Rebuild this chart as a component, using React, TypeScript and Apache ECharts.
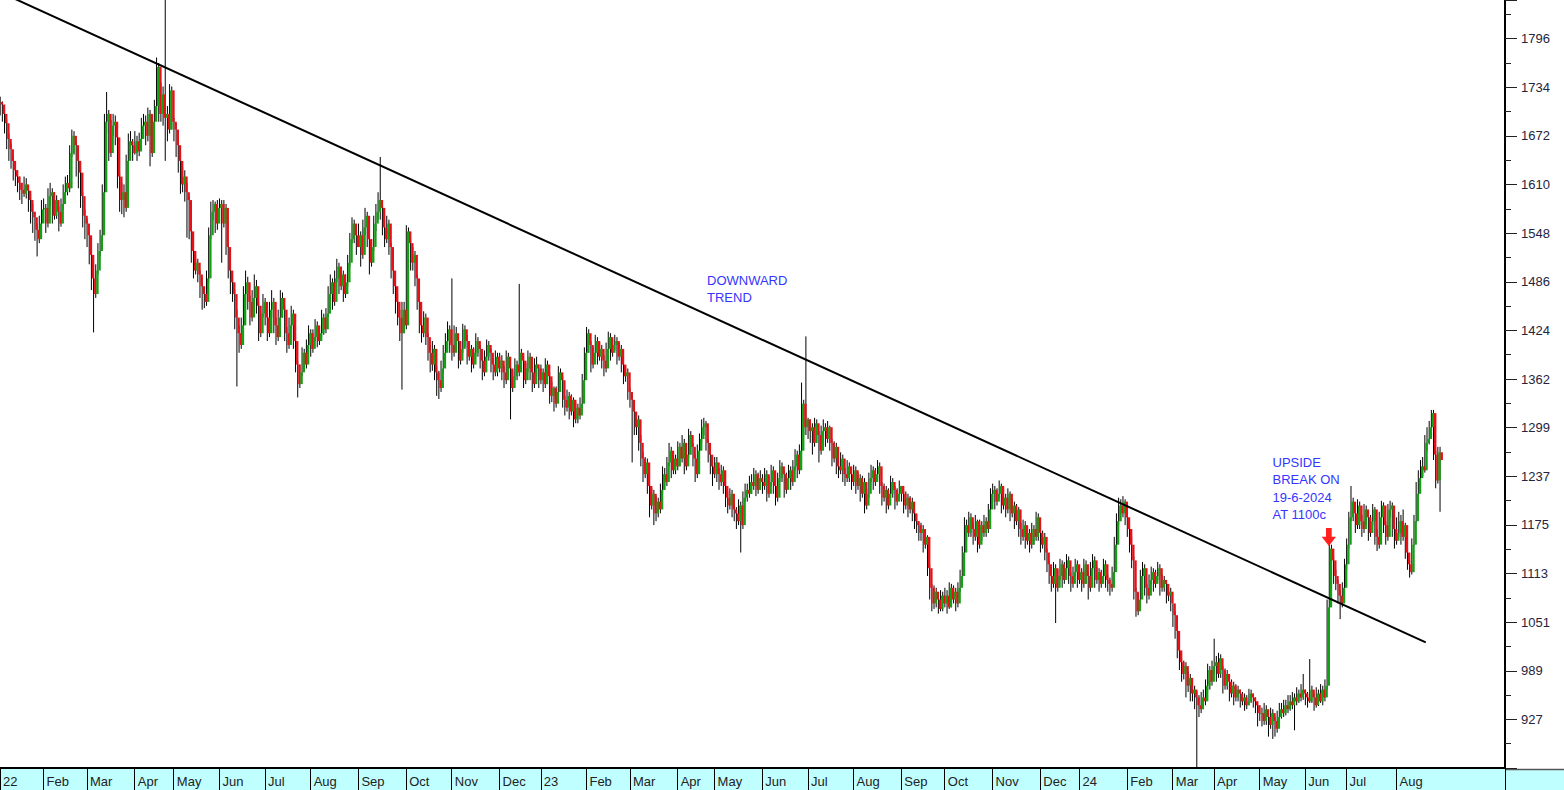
import React, { useEffect, useRef } from "react";
import * as echarts from "echarts";

// ---------- tick / axis labels ----------
const monthLabels = [
  "22", "Feb", "Mar", "Apr", "May", "Jun", "Jul", "Aug", "Sep", "Oct", "Nov", "Dec",
  "23", "Feb", "Mar", "Apr", "May", "Jun", "Jul", "Aug", "Sep", "Oct", "Nov", "Dec",
  "24", "Feb", "Mar", "Apr", "May", "Jun", "Jul", "Aug",
];
const yMin = 864.925;
const yMax = 1845.4;
const yStep = 62.075;

// ---------- daily candles: [close, low, high]; open = previous close ----------
const firstOpen = 1715;
const jan22 = [[1712,1698,1722],[1700,1690,1716],[1688,1675,1705],[1668,1655,1692],[1655,1640,1675],[1640,1630,1662],[1628,1615,1645],[1620,1608,1634],[1612,1600,1628],[1603,1590,1620],[1598,1585,1612],[1610,1594,1620],[1602,1592,1618],[1590,1575,1608],[1575,1560,1598],[1568,1548,1585],[1552,1538,1575],[1540,1518,1560],[1560,1535,1570],[1578,1550,1590]];
const feb22 = [[1580,1562,1592],[1560,1548,1585],[1595,1555,1605],[1600,1582,1612],[1570,1560,1605],[1590,1565,1600],[1575,1566,1596],[1560,1550,1582],[1585,1556,1592],[1600,1578,1610],[1612,1594,1620],[1605,1596,1622],[1650,1600,1660],[1672,1645,1680],[1660,1648,1678],[1640,1620,1665],[1625,1605,1648],[1595,1580,1630],[1570,1555,1600],[1560,1540,1578]];
const mar22 = [[1545,1530,1566],[1520,1508,1550],[1490,1475,1525],[1470,1421,1495],[1500,1465,1508],[1525,1495,1535],[1545,1518,1552],[1600,1540,1610],[1690,1595,1700],[1700,1675,1728],[1650,1640,1705],[1685,1645,1692],[1690,1672,1700],[1670,1660,1698],[1620,1605,1675],[1590,1575,1625],[1600,1572,1612],[1580,1568,1610],[1640,1575,1648],[1665,1632,1675],[1660,1648,1678],[1650,1640,1668]];
const apr22 = [[1665,1648,1678],[1652,1640,1672],[1668,1646,1676],[1685,1660,1695],[1690,1670,1700],[1672,1660,1698],[1700,1665,1708],[1650,1633,1705],[1690,1645,1698],[1710,1680,1718],[1760,1700,1772],[1700,1690,1765],[1725,1690,1740],[1695,1685,1735],[1700,1640,1870],[1680,1665,1710],[1730,1675,1738],[1690,1680,1735]];
const may22 = [[1680,1665,1695],[1660,1645,1688],[1640,1625,1665],[1610,1598,1645],[1620,1600,1632],[1600,1588,1628],[1590,1542,1612],[1550,1540,1595],[1525,1510,1558],[1500,1490,1530],[1510,1495,1518],[1495,1485,1515],[1480,1465,1500],[1470,1450,1490],[1460,1452,1478],[1490,1455,1500],[1545,1485,1555],[1575,1540,1588],[1585,1565,1590],[1560,1548,1588],[1580,1552,1590]];
const jun22 = [[1585,1570,1592],[1560,1510,1590],[1580,1555,1590],[1530,1520,1585],[1500,1490,1535],[1485,1470,1505],[1470,1460,1495],[1440,1425,1476],[1420,1352,1450],[1405,1395,1430],[1430,1400,1440],[1470,1425,1480],[1485,1460,1500],[1460,1450,1492],[1440,1430,1468],[1465,1435,1475],[1480,1458,1495],[1455,1445,1488],[1420,1410,1460],[1445,1415,1455],[1460,1440,1470]];
const jul22 = [[1440,1430,1465],[1420,1410,1448],[1450,1415,1460],[1460,1440,1475],[1430,1420,1465],[1415,1405,1440],[1440,1410,1450],[1465,1435,1475],[1450,1440,1472],[1420,1410,1455],[1405,1395,1428],[1430,1400,1440],[1445,1425,1455],[1410,1400,1450],[1380,1370,1415],[1355,1338,1385],[1370,1350,1380],[1395,1365,1402],[1380,1372,1400],[1405,1375,1412],[1420,1400,1430]];
const aug22 = [[1400,1390,1425],[1415,1395,1425],[1430,1410,1438],[1410,1402,1435],[1420,1405,1428],[1440,1415,1450],[1425,1418,1445],[1445,1420,1452],[1470,1440,1480],[1485,1465,1495],[1460,1450,1490],[1490,1455,1500],[1505,1485,1515],[1480,1470,1510],[1495,1475,1505],[1470,1460,1500],[1485,1465,1495],[1510,1480,1520],[1540,1505,1548],[1560,1535,1568],[1545,1535,1565],[1530,1520,1552]];
const sep22 = [[1545,1530,1560],[1520,1505,1550],[1555,1515,1565],[1570,1545,1580],[1540,1530,1575],[1510,1495,1545],[1530,1505,1540],[1560,1525,1570],[1575,1550,1585],[1590,1565,1600],[1580,1565,1645],[1555,1545,1590],[1540,1530,1565],[1560,1535,1570],[1530,1520,1565],[1500,1490,1535],[1480,1470,1510],[1460,1445,1490],[1440,1430,1470],[1420,1410,1450],[1450,1348,1460],[1430,1420,1460]];
const oct22 = [[1550,1425,1558],[1535,1520,1555],[1510,1500,1540],[1520,1500,1530],[1490,1480,1525],[1460,1450,1495],[1430,1420,1465],[1420,1408,1440],[1440,1415,1448],[1415,1405,1445],[1395,1385,1420],[1380,1370,1405],[1400,1372,1410],[1370,1360,1405],[1360,1340,1378],[1350,1336,1372],[1375,1345,1385],[1395,1370,1405],[1410,1390,1420],[1425,1400,1435],[1405,1395,1430]];
const nov22 = [[1395,1385,1490],[1420,1390,1430],[1410,1400,1428],[1385,1375,1415],[1400,1380,1410],[1425,1395,1432],[1410,1402,1430],[1390,1380,1418],[1400,1385,1410],[1380,1370,1405],[1395,1375,1402],[1410,1390,1420],[1400,1390,1415],[1385,1375,1405],[1370,1360,1392],[1390,1365,1398],[1405,1385,1412],[1395,1385,1410],[1380,1370,1400],[1370,1360,1388],[1390,1365,1398],[1375,1365,1395]];
const dec22 = [[1385,1370,1395],[1370,1360,1392],[1360,1350,1378],[1390,1355,1398],[1375,1365,1395],[1350,1310,1380],[1365,1345,1372],[1380,1360,1388],[1370,1360,1385],[1395,1365,1483],[1385,1375,1400],[1360,1350,1390],[1375,1355,1382],[1390,1370,1398],[1370,1360,1395],[1355,1345,1375],[1380,1350,1388],[1375,1365,1390],[1360,1350,1380]];
const jan23 = [[1370,1355,1380],[1355,1345,1375],[1380,1350,1388],[1365,1355,1385],[1340,1330,1370],[1350,1332,1358],[1330,1320,1352],[1345,1325,1352],[1370,1340,1378],[1360,1350,1375],[1335,1325,1365],[1325,1315,1340],[1340,1320,1348],[1320,1310,1345],[1335,1315,1342],[1310,1300,1338],[1325,1305,1332],[1315,1305,1330],[1330,1310,1338],[1360,1325,1368],[1395,1355,1402]];
const feb23 = [[1420,1395,1428],[1405,1395,1425],[1380,1370,1410],[1395,1375,1402],[1410,1390,1418],[1390,1380,1415],[1400,1385,1408],[1385,1375,1405],[1375,1365,1392],[1400,1370,1408],[1415,1395,1422],[1395,1385,1420],[1405,1390,1412],[1410,1398,1418],[1390,1380,1415],[1400,1385,1408],[1380,1370,1405],[1365,1355,1385],[1370,1358,1378],[1345,1335,1375]];
const mar23 = [[1335,1325,1350],[1320,1255,1345],[1300,1290,1330],[1310,1290,1318],[1280,1270,1315],[1260,1250,1290],[1240,1230,1268],[1255,1235,1262],[1225,1215,1260],[1200,1185,1235],[1215,1195,1222],[1190,1175,1220],[1205,1180,1212],[1195,1185,1210],[1220,1190,1228],[1240,1215,1250],[1230,1220,1248],[1255,1225,1262],[1270,1250,1280],[1245,1235,1275],[1260,1240,1268],[1250,1240,1265]];
const apr23 = [[1275,1245,1282],[1260,1250,1280],[1280,1255,1290],[1250,1240,1285],[1265,1245,1272],[1290,1260,1298],[1275,1265,1295],[1260,1250,1280],[1240,1230,1265],[1270,1235,1278],[1285,1265,1292],[1300,1280,1310],[1305,1290,1312],[1280,1270,1308],[1265,1255,1285],[1250,1240,1270],[1240,1225,1255]];
const may23 = [[1255,1235,1262],[1240,1230,1262],[1230,1220,1248],[1245,1225,1252],[1225,1215,1250],[1210,1198,1232],[1200,1190,1218],[1215,1195,1222],[1195,1185,1220],[1190,1180,1205],[1180,1170,1198],[1200,1175,1208],[1175,1140,1205],[1210,1170,1218],[1220,1205,1228],[1215,1205,1228],[1230,1210,1238],[1225,1215,1240],[1240,1220,1248],[1220,1212,1245],[1235,1215,1242],[1230,1220,1245]];
const jun23 = [[1225,1215,1240],[1240,1220,1248],[1215,1205,1245],[1230,1210,1238],[1245,1225,1252],[1225,1215,1250],[1210,1200,1230],[1235,1205,1242],[1250,1230,1258],[1240,1230,1255],[1220,1210,1245],[1235,1215,1242],[1245,1230,1252],[1230,1220,1250],[1250,1225,1258],[1265,1245,1272],[1245,1235,1270],[1270,1240,1278],[1330,1265,1357],[1300,1290,1335],[1310,1290,1416]];
const jul23 = [[1295,1285,1312],[1300,1280,1310],[1280,1265,1305],[1305,1275,1312],[1290,1280,1310],[1270,1255,1295],[1295,1265,1302],[1300,1285,1310],[1285,1275,1305],[1300,1280,1308],[1280,1270,1302],[1260,1250,1285],[1275,1255,1282],[1250,1240,1280],[1245,1235,1258],[1260,1240,1268],[1240,1230,1265],[1235,1225,1248],[1250,1230,1258],[1240,1230,1255],[1230,1220,1245]];
const aug23 = [[1245,1225,1252],[1225,1215,1250],[1235,1220,1242],[1215,1205,1240],[1230,1210,1238],[1200,1190,1235],[1215,1195,1222],[1235,1210,1242],[1245,1230,1252],[1230,1220,1250],[1240,1225,1248],[1250,1235,1258],[1225,1215,1255],[1210,1200,1230],[1220,1205,1228],[1200,1190,1225],[1215,1195,1222],[1230,1210,1238],[1220,1210,1235],[1205,1195,1225],[1215,1200,1222],[1225,1210,1232]];
const sep23 = [[1215,1205,1225],[1200,1190,1220],[1210,1195,1218],[1195,1185,1215],[1205,1190,1212],[1190,1180,1210],[1180,1170,1195],[1175,1165,1188],[1165,1155,1180],[1170,1155,1178],[1150,1140,1175],[1160,1145,1168],[1120,1110,1162],[1095,1080,1125],[1075,1065,1100],[1090,1068,1098],[1080,1070,1095],[1068,1062,1088],[1085,1065,1092],[1075,1065,1090]];
const oct23 = [[1085,1070,1095],[1070,1062,1092],[1095,1068,1102],[1080,1070,1100],[1090,1075,1098],[1075,1065,1095],[1095,1070,1102],[1110,1090,1118],[1140,1105,1148],[1175,1135,1185],[1165,1155,1182],[1185,1160,1192],[1170,1160,1190],[1160,1150,1178],[1180,1155,1188],[1150,1140,1182],[1175,1145,1182],[1165,1155,1180],[1180,1160,1188],[1170,1160,1185],[1195,1165,1202],[1215,1190,1222]];
const nov23 = [[1220,1205,1228],[1205,1195,1225],[1215,1200,1222],[1225,1210,1232],[1200,1190,1228],[1210,1195,1218],[1195,1185,1215],[1215,1190,1222],[1190,1180,1218],[1200,1185,1208],[1180,1170,1205],[1195,1175,1202],[1170,1160,1198],[1160,1150,1178],[1175,1155,1182],[1155,1145,1180],[1165,1150,1172],[1150,1140,1170],[1170,1145,1178],[1160,1150,1175],[1185,1155,1192],[1165,1155,1190]];
const dec23 = [[1150,1140,1170],[1160,1145,1168],[1140,1130,1165],[1125,1115,1145],[1110,1100,1130],[1100,1090,1115],[1120,1095,1128],[1095,1050,1125],[1110,1090,1118],[1125,1105,1132],[1105,1095,1130],[1120,1100,1128],[1130,1115,1138],[1110,1100,1135],[1100,1090,1115],[1115,1095,1122],[1125,1110,1132],[1105,1095,1130]];
const jan24 = [[1115,1100,1122],[1100,1090,1120],[1125,1095,1132],[1110,1100,1130],[1095,1080,1115],[1120,1090,1128],[1130,1115,1138],[1105,1095,1135],[1115,1100,1122],[1100,1090,1120],[1110,1095,1118],[1125,1105,1132],[1105,1095,1130],[1100,1090,1112],[1095,1085,1108],[1115,1090,1122],[1150,1110,1160],[1180,1145,1190],[1200,1175,1210],[1190,1180,1208],[1205,1185,1212],[1185,1175,1208]];
const feb24 = [[1170,1160,1190],[1150,1140,1175],[1130,1120,1160],[1090,1080,1135],[1065,1058,1095],[1080,1060,1088],[1110,1075,1118],[1120,1100,1128],[1095,1085,1125],[1085,1075,1100],[1105,1080,1112],[1115,1100,1122],[1100,1090,1120],[1110,1095,1118],[1120,1105,1128],[1095,1085,1125],[1105,1090,1112],[1100,1090,1110],[1085,1075,1105],[1090,1078,1098],[1075,1065,1095]];
const mar24 = [[1060,1045,1075],[1040,1030,1065],[1015,1005,1045],[1000,990,1020],[985,975,1005],[995,978,1002],[970,955,1000],[980,962,988],[960,950,985],[965,950,975],[955,940,970],[945,866,962],[940,930,958],[955,935,962],[950,940,965],[970,945,978],[990,965,998],[975,965,995],[995,970,1002]];
const apr24 = [[1000,985,1030],[985,975,1008],[1005,980,1012],[990,980,1010],[970,960,995],[985,965,992],[975,965,990],[960,950,980],[970,955,978],[955,945,975],[965,950,972],[960,950,970],[950,942,965],[955,945,962],[945,938,960],[950,940,958],[960,945,966],[955,948,965],[950,942,960],[945,935,955],[935,918,950]];
const may24 = [[935,925,945],[925,918,942],[940,920,948],[930,920,945],[920,905,935],[935,915,942],[925,902,940],[915,905,930],[930,910,938],[940,925,948],[935,928,948],[945,930,952],[940,932,952],[950,935,958],[945,938,958],[955,940,962],[950,913,960],[960,945,968],[955,948,965],[965,950,972],[960,952,985]];
const jun24 = [[955,945,965],[950,942,962],[965,948,1004],[955,948,970],[945,938,960],[960,942,968],[950,944,965],[965,948,972],[955,945,970],[970,950,978],[1070,965,1080],[1145,1065,1153],[1130,1120,1150],[1110,1100,1135],[1100,1092,1118],[1085,1075,1105],[1075,1055,1092],[1095,1070,1102],[1125,1090,1132]];
const jul24 = [[1150,1118,1158],[1185,1145,1192],[1205,1180,1225],[1190,1180,1210],[1175,1165,1198],[1200,1170,1208],[1180,1170,1205],[1170,1160,1188],[1195,1165,1202],[1185,1175,1200],[1165,1155,1192],[1180,1160,1188],[1195,1175,1202],[1160,1150,1198],[1150,1142,1170],[1185,1145,1192],[1200,1180,1206],[1175,1165,1204],[1160,1150,1180],[1195,1155,1202],[1200,1185,1206],[1170,1160,1204],[1155,1145,1175]];
const aug24 = [[1165,1150,1185],[1180,1160,1192],[1160,1150,1188],[1175,1155,1195],[1140,1132,1178],[1125,1118,1145],[1115,1108,1130],[1150,1112,1158],[1180,1148,1188],[1215,1178,1230],[1235,1210,1245],[1250,1230,1258],[1245,1238,1262],[1280,1242,1290],[1285,1270,1300],[1300,1278,1308],[1318,1296,1322],[1265,1258,1322],[1232,1222,1270],[1268,1228,1275],[1258,1192,1275]];
const emptySlots = 29;

// ---------- trend line (category index, price) ----------
const trendStart = [0, 1854.9];
const trendEnd = [656, 1025.3];

const GREEN = "#14a014";
const RED = "#e81018";
const FONT = "'Liberation Sans', Arial, sans-serif";

export default function App() {
  const ref = useRef<HTMLDivElement>(null);

  useEffect(() => {
    if (!ref.current) return;
    const chart = echarts.init(ref.current, null, { renderer: "svg" });

    const months = [
      jan22, feb22, mar22, apr22, may22, jun22, jul22, aug22, sep22, oct22, nov22, dec22,
      jan23, feb23, mar23, apr23, may23, jun23, jul23, aug23, sep23, oct23, nov23, dec23,
      jan24, feb24, mar24, apr24, may24, jun24, jul24, aug24,
    ];
    const candles: number[][] = [];
    const labels: string[] = [];
    let prev = firstOpen;
    let idx = 0;
    months.forEach((m, mi) => {
      m.forEach(([c, l, h], di) => {
        const o = prev;
        candles.push([idx, o, c, Math.min(l, o, c), Math.max(h, o, c)]);
        labels.push(di === 0 ? monthLabels[mi] : "");
        prev = c;
        idx++;
      });
    });
    for (let k = 0; k < emptySlots; k++) {
      labels.push("");
      idx++;
    }
    const cats = labels.map((_, i) => String(i));
    const isStart = (i: number) => labels[i] !== "";

    const textStyle = (text: string) => ({
      text,
      fill: "#3535ff",
      fontSize: 13,
      fontFamily: FONT,
      verticalAlign: "middle",
      align: "left",
    });

    const option: any = {
      animation: false,
      backgroundColor: "transparent",
      grid: { left: 0, right: 59, top: 0, bottom: 22, containLabel: false },
      xAxis: {
        type: "category",
        data: cats,
        boundaryGap: true,
        axisLine: { show: true, lineStyle: { color: "#000", width: 2 } },
        axisTick: {
          show: true,
          length: 22,
          interval: (i: number) => isStart(i),
          lineStyle: { color: "#000", width: 1 },
        },
        axisLabel: {
          show: true,
          interval: (i: number) => isStart(i),
          formatter: (_v: string, i: number) => labels[i],
          align: "left",
          margin: 7,
          padding: [0, 0, 0, 2],
          color: "#222",
          fontSize: 13,
          fontFamily: FONT,
          hideOverlap: false,
        },
        splitLine: { show: false },
      },
      yAxis: {
        type: "value",
        position: "right",
        min: yMin,
        max: yMax,
        interval: yStep,
        splitLine: { show: false },
        axisLine: { show: true, lineStyle: { color: "#000", width: 2 } },
        axisTick: { show: true, length: 12, lineStyle: { color: "#222", width: 1 } },
        minorTick: { show: true, splitNumber: 2, length: 6, lineStyle: { color: "#222", width: 1 } },
        minorSplitLine: { show: false },
        axisLabel: {
          margin: 16,
          color: "#24243c",
          fontSize: 13,
          fontFamily: FONT,
          showMinLabel: false,
          showMaxLabel: false,
          formatter: (v: number) => String(Math.round(v)),
        },
      },
      series: [
        {
          // wicks (high-low), drawn underneath the bodies
          type: "custom",
          clip: true,
          data: candles,
          encode: { x: 0, y: [3, 4] },
          renderItem: (_p: any, api: any) => {
            const i = api.value(0);
            const pL = api.coord([i, api.value(3)]);
            const yH = api.coord([i, api.value(4)])[1];
            return {
              type: "line",
              shape: { x1: pL[0] - 0.9, y1: yH, x2: pL[0] - 0.9, y2: pL[1] },
              style: { stroke: "#000", lineWidth: 1 },
            };
          },
          z: 2,
        },
        {
          // bodies (open-close)
          type: "custom",
          clip: true,
          data: candles,
          encode: { x: 0, y: [1, 2] },
          renderItem: (_p: any, api: any) => {
            const i = api.value(0);
            const o = api.value(1);
            const c = api.value(2);
            const pO = api.coord([i, o]);
            const yC = api.coord([i, c])[1];
            const top = Math.min(pO[1], yC);
            const hgt = Math.max(1, Math.abs(pO[1] - yC));
            return {
              type: "rect",
              shape: { x: pO[0] - 0.4, y: top, width: 2.4, height: hgt },
              style: { fill: c >= o ? GREEN : RED },
            };
          },
          z: 3,
        },
        {
          type: "line",
          data: [trendStart, trendEnd],
          symbol: "none",
          clip: true,
          lineStyle: { color: "#000", width: 2 },
          z: 4,
        },
      ],
      graphic: [
        {
          type: "line",
          shape: { x1: 1505, y1: 769.5, x2: 1564, y2: 769.5 },
          style: { stroke: "#555", lineWidth: 1.5 },
        },
        { type: "text", x: 707, y: 280.5, style: textStyle("DOWNWARD") },
        { type: "text", x: 707, y: 297, style: textStyle("TREND") },
        { type: "text", x: 1272.5, y: 462, style: textStyle("UPSIDE") },
        { type: "text", x: 1272.5, y: 479.5, style: textStyle("BREAK ON") },
        { type: "text", x: 1272.5, y: 497, style: textStyle("19-6-2024") },
        { type: "text", x: 1272.5, y: 514, style: textStyle("AT 1100c") },
        {
          type: "polygon",
          shape: {
            points: [[1326, 528], [1331.7, 528], [1331.7, 536.7], [1336, 536.7], [1328.9, 546], [1321.7, 536.7], [1326, 536.7]],
          },
          style: { fill: "#ff2020" },
          z: 10,
        },
      ],
    };

    chart.setOption(option);
    return () => {
      chart.dispose();
    };
  }, []);

  return (
    <div
      ref={ref}
      style={{
        position: "fixed",
        left: 0,
        top: 0,
        width: 1564,
        height: 790,
        background: "linear-gradient(to bottom, #ffffff 0px, #ffffff 769px, #c0ffff 769px, #c0ffff 790px)",
      }}
    />
  );
}
